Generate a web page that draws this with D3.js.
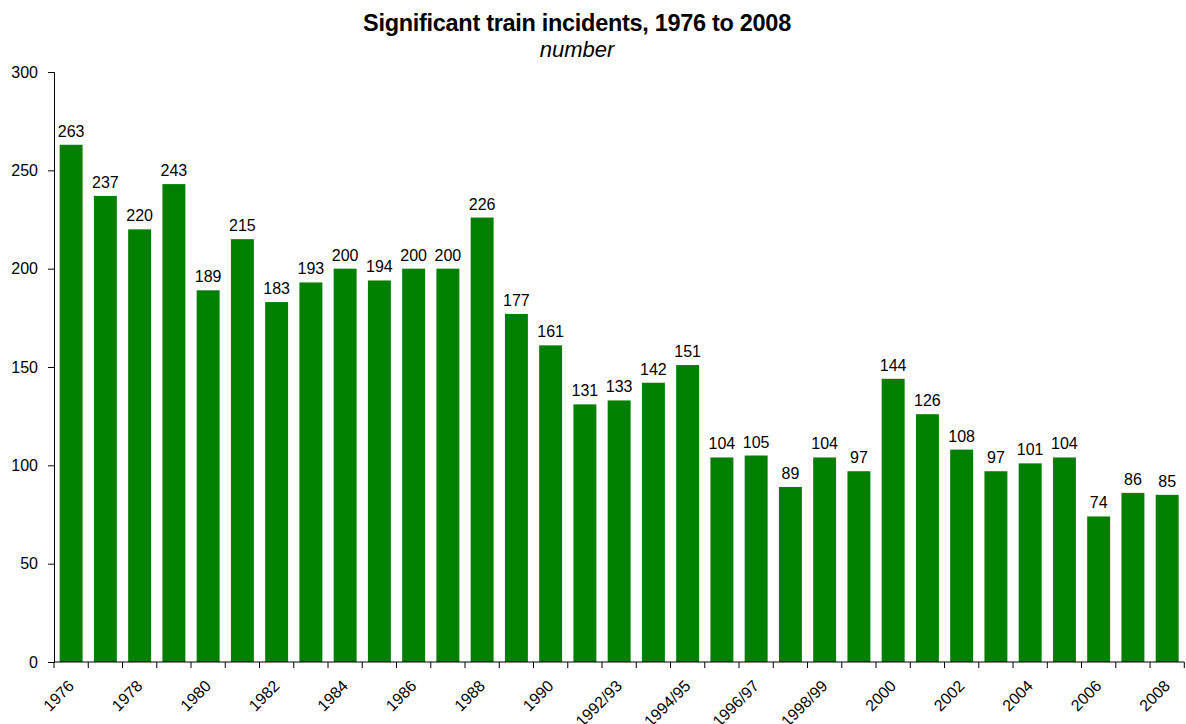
<!DOCTYPE html>
<html><head><meta charset="utf-8">
<script src="https://cdn.jsdelivr.net/npm/d3@7"></script>
<style>body{margin:0;background:#fff;} text{font-family:"Liberation Sans",Arial,sans-serif;}</style>
</head><body>
<svg id="c" width="1186" height="724"></svg>
<script>
const categories = ["1976","1977","1978","1979","1980","1981","1982","1983","1984","1985","1986","1987","1988","1989","1990","1991/92","1992/93","1993/94","1994/95","1995/96","1996/97","1997/98","1998/99","1999/00","2000","2001","2002","2003","2004","2005","2006","2007","2008"];
const values = [263,237,220,243,189,215,183,193,200,194,200,200,226,177,161,131,133,142,151,104,105,89,104,97,144,126,108,97,101,104,74,86,85];
const yTicks = [0,50,100,150,200,250,300];

const svg = d3.select("#c");
const x = d3.scaleBand().domain(categories).range([54, 1184.3]).paddingInner(0.33).paddingOuter(0.165);
const y = d3.scaleLinear().domain([0,300]).range([662, 72]);

svg.append("text").attr("x",577).attr("y",31).attr("text-anchor","middle")
  .attr("font-size","23.5px").attr("font-weight","bold").attr("letter-spacing","-0.3px").text("Significant train incidents, 1976 to 2008");
svg.append("text").attr("x",577).attr("y",57).attr("text-anchor","middle")
  .attr("font-size","22px").attr("font-style","italic").text("number");

svg.selectAll("rect.bar").data(values).enter().append("rect")
  .attr("class","bar")
  .attr("x",(d,i)=>x(categories[i]))
  .attr("width",x.bandwidth())
  .attr("y",d=>y(d))
  .attr("height",d=>y(0)-y(d))
  .attr("fill","#007f00");

svg.selectAll("text.val").data(values).enter().append("text")
  .attr("class","val")
  .attr("x",(d,i)=>x(categories[i])+x.bandwidth()/2)
  .attr("y",d=>y(d)-8)
  .attr("text-anchor","middle").attr("font-size","16px").text(d=>d);

// y axis
const yAxis = d3.axisLeft(y).tickValues(yTicks).tickSize(6).tickPadding(10);
const gy = svg.append("g").attr("transform","translate(54,0)").call(yAxis);
gy.select(".domain").attr("stroke","#000");
gy.selectAll("text").attr("font-size","16px").attr("font-family","Liberation Sans, Arial, sans-serif").attr("fill","#000");

// x axis baseline and boundary ticks
const bounds = d3.range(categories.length+1).map(i=>54 + i*(1184.3-54)/categories.length);
svg.append("line").attr("x1",54).attr("x2",1184.3).attr("y1",y(0)).attr("y2",y(0)).attr("stroke","#000");
svg.selectAll("line.xt").data(bounds).enter().append("line")
  .attr("x1",d=>d).attr("x2",d=>d).attr("y1",y(0)).attr("y2",y(0)+6).attr("stroke","#000");

svg.selectAll("text.xl").data(categories.filter((c,i)=>i%2===0)).enter().append("text")
  .attr("class","xl")
  .attr("transform",d=>`translate(${x(d)+x.bandwidth()/2},${y(0)+21}) rotate(-45)`)
  .attr("text-anchor","end").attr("dy","0.35em")
  .attr("font-size","16px").text(d=>d);
</script>
</body></html>
